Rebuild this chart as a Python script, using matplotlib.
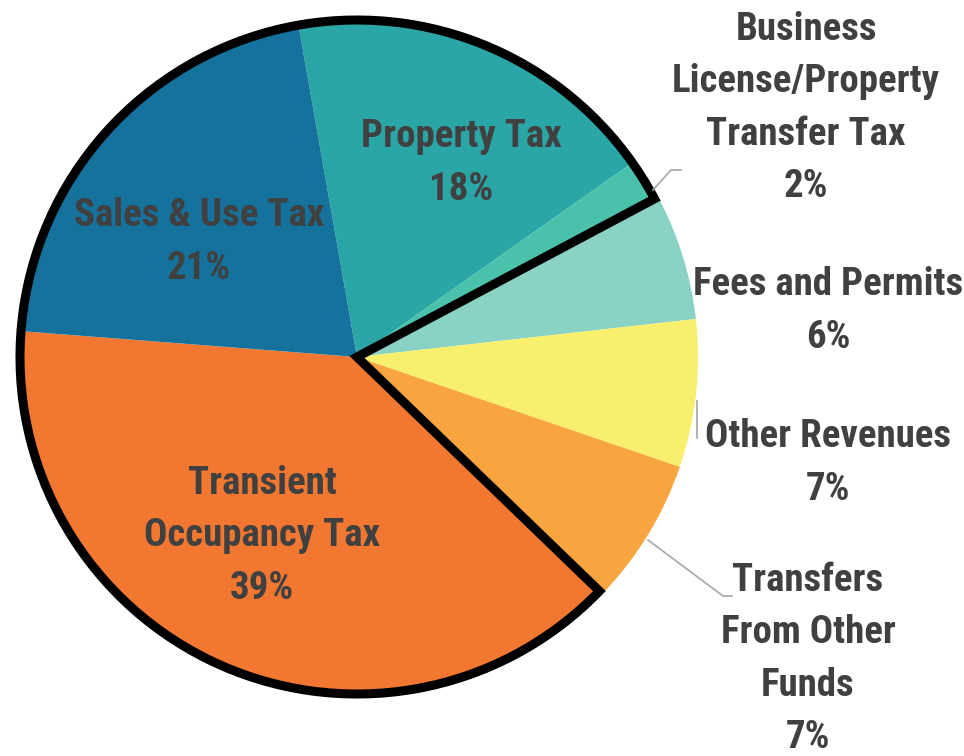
import matplotlib
matplotlib.use("Agg")
import matplotlib.pyplot as plt
from matplotlib.patches import Wedge
from matplotlib import font_manager as fm
import numpy as np

categories = ["Property Tax", "Business\nLicense/Property\nTransfer Tax", "Fees and Permits",
              "Other Revenues", "Transfers\nFrom Other\nFunds", "Transient\nOccupancy Tax",
              "Sales & Use Tax"]
values = [18, 2, 6, 7, 7, 39, 21]
colors = ["#2BA6A6", "#4AC2AB", "#8AD2C4", "#F8EF6C", "#F9A53F", "#F27731", "#15729C"]

# ---- pick a condensed bold font if one is installed ----
def _w(w):
    if isinstance(w, str):
        return fm.weight_dict.get(w, 400)
    return w

best = None
best_score = -1
for f in fm.fontManager.ttflist:
    fn = f.fname.lower()
    nm = f.name.lower()
    narrow = ("condensed" in fn or "narrow" in fn or "condensed" in nm or "narrow" in nm
              or str(f.stretch) in ("condensed", "semi-condensed", "extra-condensed",
                                    "ultra-condensed"))
    if not narrow or f.style != "normal":
        continue
    w = _w(f.weight)
    score = 0
    if w >= 600:
        score += 10
    if "semi" in fn:
        score -= 3
    if "liberation" in fn:
        score += 3
    if "roboto" in fn:
        score += 2
    if score > best_score:
        best, best_score = f, score

if best is not None:
    fontprops = dict(fontproperties=fm.FontProperties(fname=best.fname, size=28,
                                                      weight="bold"))
    lsp = 1.52
else:
    fontprops = dict(family=["Roboto", "DejaVu Sans"], weight="bold", fontsize=22)
    lsp = 1.7

W, H = 964, 756
fig = plt.figure(figsize=(W / 100, H / 100), dpi=100)
ax = fig.add_axes([0, 0, 1, 1])

cx, cy, R = 357, H - 357, 341
start = 100
wedges, _ = ax.pie(values, colors=colors, startangle=start, counterclock=False,
                   center=(cx, cy), radius=R, frame=True,
                   wedgeprops=dict(linewidth=0))
ax.set_xlim(0, W)
ax.set_ylim(0, H)
ax.set_aspect("equal")
ax.axis("off")

# outline around the tax slices
fr = np.array(values) / sum(values)
bounds = start - np.concatenate([[0], np.cumsum(fr) * 360])
th_a = bounds[2]   # end of Business License slice
th_b = bounds[5]   # end of Transfers slice
outline = Wedge((cx, cy), R - 4, th_a, th_b + 360, fill=False, edgecolor="black",
                linewidth=6.5, joinstyle="miter")
ax.add_patch(outline)

tc = "#404040"
pct = [f"{v}%" for v in values]
label_pos = {
    0: (461, 163),
    1: (806, 108),
    2: (828, 311),
    3: (828, 463),
    4: (808, 659),
    5: (262, 536),
    6: (199, 242),
}
for i, (x, y) in label_pos.items():
    ax.text(x, H - y, categories[i] + "\n" + pct[i], color=tc, ha="center", va="center",
            linespacing=lsp, **fontprops)

lc = "#A6A6A6"
ax.plot([653, 671, 681], [H - 190, H - 170, H - 170], color=lc, lw=1.2)
ax.plot([648, 723, 732], [H - 540, H - 596, H - 596], color=lc, lw=1.2)
ax.plot([697, 697], [H - 401, H - 438], color=lc, lw=1.2)

fig.savefig("out.png", dpi=100)
